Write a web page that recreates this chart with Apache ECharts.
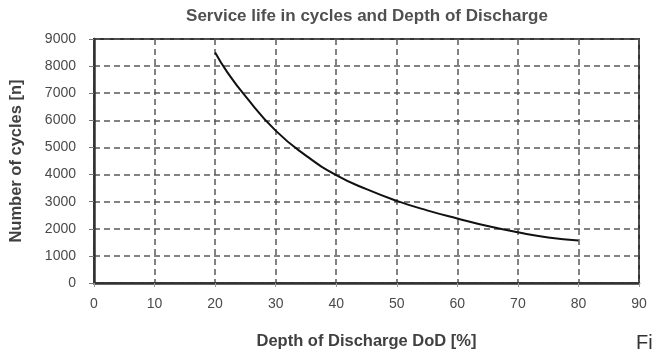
<!DOCTYPE html>
<html><head><meta charset="utf-8">
<script src="https://cdn.jsdelivr.net/npm/echarts@6/dist/echarts.min.js"></script>
<style>html,body{margin:0;padding:0;background:#fff}#c{width:655px;height:355px}</style>
</head><body><div id="c"></div>
<script>
const dod = [20, 22, 25, 30, 35, 40, 45, 50, 55, 60, 65, 70, 75, 80];
const cycles = [8500, 7780, 6890, 5620, 4700, 3980, 3460, 3030, 2680, 2380, 2100, 1870, 1680, 1570];
const title = 'Service life in cycles and Depth of Discharge';
const xName = 'Depth of Discharge DoD [%]';
const yName = 'Number of cycles [n]';

const chart = echarts.init(document.getElementById('c'), null, {renderer: 'canvas'});
const gridLine = {show: true, lineStyle: {color: '#5a5a5a', width: 1.5, type: [6, 4]}};
const nameStyle = {fontFamily: 'Liberation Sans, Arial, sans-serif', fontSize: 16.5, fontWeight: 'bold', color: '#404040'};
const labelStyle = {color: '#4a4a4a', fontSize: 14, fontFamily: 'Liberation Sans, Arial, sans-serif'};
chart.setOption({
  animation: false,
  title: {text: title, left: 362, top: 3, textAlign: 'center',
    textStyle: {fontFamily: 'Liberation Sans, Arial, sans-serif', fontSize: 17, fontWeight: 'bold', color: '#505050'}},
  grid: {left: 94, right: 16, top: 39, bottom: 70, show: true, borderColor: '#333', borderWidth: 2, backgroundColor: 'transparent'},
  xAxis: {type: 'value', min: 0, max: 90, interval: 10,
    name: xName, nameLocation: 'middle', nameGap: 50, nameTextStyle: nameStyle,
    axisLine: {show: true, lineStyle: {color: '#333', width: 2.5}},
    axisTick: {show: true, length: 4, lineStyle: {color: '#999'}},
    axisLabel: Object.assign({margin: 14}, labelStyle),
    splitLine: gridLine},
  yAxis: {type: 'value', min: 0, max: 9000, interval: 1000,
    name: yName, nameLocation: 'middle', nameGap: 69, nameTextStyle: nameStyle,
    axisLine: {show: true, lineStyle: {color: '#333', width: 2.5}},
    axisTick: {show: true, length: 5, lineStyle: {color: '#777'}},
    axisLabel: Object.assign({margin: 18, formatter: v => String(v)}, labelStyle),
    splitLine: gridLine},
  series: [{type: 'line', data: dod.map((d, i) => [d, cycles[i]]), smooth: 0.5, showSymbol: false,
    lineStyle: {color: '#111', width: 2}}],
  graphic: [{type: 'text', left: 636, top: 333,
    style: {text: 'Fi', fontSize: 20, fill: '#333', fontFamily: 'Liberation Sans, Arial, sans-serif'}}]
});
</script></body></html>
